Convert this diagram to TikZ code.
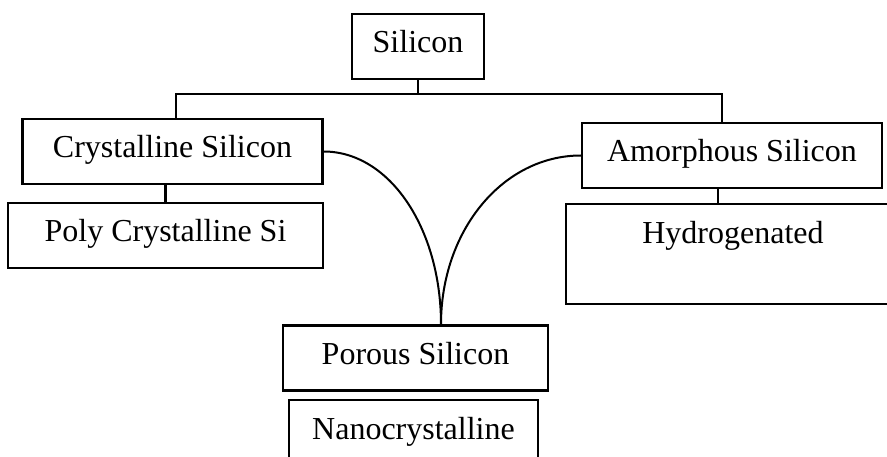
\documentclass[tikz,border=0pt]{standalone}
\usepackage{fontspec}
\setmainfont{Liberation Serif}
\usetikzlibrary{positioning}

\begin{document}
\begin{tikzpicture}[x=1pt,y=-1pt,
 box/.style={draw,line width=2.2pt,inner xsep=0pt,inner ysep=17pt,text height=22pt,text depth=9pt,
  font=\fontsize{32pt}{38pt}\selectfont},
 link/.style={line width=2.2pt}]
\useasboundingbox (0,0) rectangle (887,457);
\clip (0,0) rectangle (887,457);
\node[box,minimum width=132pt] (si) at (418,46.5) {Silicon};
\node[box,minimum width=300pt] (cry) at (172.5,151.5) {Crystalline Silicon};
\node[box,minimum width=315pt] (poly) at (165.5,235.5) {Poly Crystalline Si};
\node[box,minimum width=300pt] (amo) at (732,155.5) {Amorphous Silicon};
\node[box,minimum width=334pt,anchor=north,text depth=44pt] (hyd) at (733,203) {Hydrogenated};
\node[box,minimum width=265pt] (por) at (415.5,358) {Porous Silicon};
\node[box,minimum width=249pt,anchor=north] (nano) at (413.5,399) {Nanocrystalline};
% tree lines
\draw[link] (si.south) -- ++(0,14) -| ([xshift=3.5pt]cry.north);
\draw[link] (si.south) ++(0,14) -| ([xshift=-10pt]amo.north);
\draw[link] (poly.north) -- (poly.north |- cry.south);
\coordinate (a1) at ([xshift=-14pt]amo.south);
\draw[link] (a1) -- (a1 |- hyd.north);
% both branches meet on top of porous
\coordinate (join) at ([xshift=25.5pt]por.north);
\draw[link,line width=2pt] (cry.east) .. controls +(66,0) and +(0,-96) .. (join);
\draw[link,line width=2pt] (amo.west) .. controls +(-78,0) and +(0,-94) .. (join);
\end{tikzpicture}
\end{document}
